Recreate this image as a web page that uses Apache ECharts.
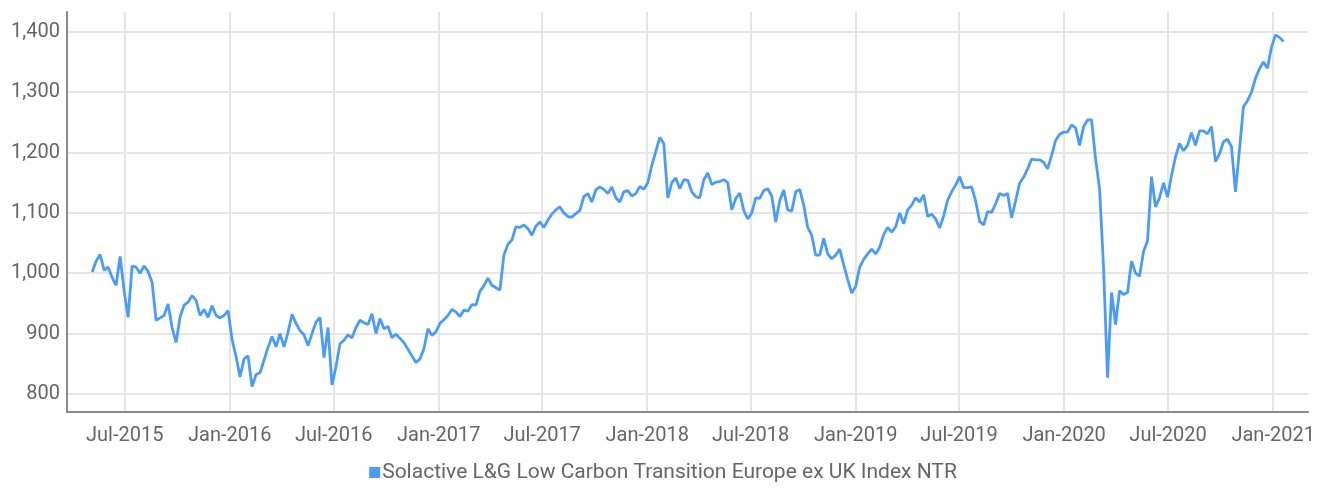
<!DOCTYPE html>
<html>
<head>
<meta charset="utf-8">
<script src="https://cdn.jsdelivr.net/npm/echarts@6.0.0/dist/echarts.min.js"></script>
<style>
  html, body { margin: 0; padding: 0; background: #fff; }
  #chart { width: 1326px; height: 494px; }
</style>
</head>
<body>
<div id="chart"></div>
<script>
// Index level, weekly closes (first week: 5 May 2015)
const seriesName = 'Solactive L&G Low Carbon Transition Europe ex UK Index NTR';
const firstWeek = [2015, 4, 5];

const close2015 = [1002, 1020, 1031, 1005, 1010, 993, 980, 1028, 971, 927,
    1012, 1010, 1000, 1012, 1003, 985, 922, 926, 930, 949,
    910, 885, 928, 947, 952, 963, 955, 930, 940, 927,
    946, 930, 926, 930, 938];
const close2016 = [890, 862, 828, 858, 863,
    812, 832, 835, 856, 877, 895, 878, 900, 878, 902,
    932, 917, 905, 898, 880, 900, 919, 927, 860, 910,
    815, 845, 883, 889, 898, 893, 910, 922, 918, 915,
    933, 900, 925, 908, 912, 893, 899, 892, 885, 874,
    863, 852, 858, 875, 908, 897, 903];
const close2017 = [917, 923, 930,
    940, 936, 928, 939, 937, 948, 947, 970, 979, 992,
    980, 976, 972, 1030, 1048, 1055, 1077, 1076, 1080, 1074,
    1063, 1078, 1085, 1076, 1088, 1098, 1105, 1110, 1100, 1094,
    1093, 1099, 1104, 1127, 1132, 1118, 1138, 1143, 1139, 1132,
    1143, 1125, 1118, 1135, 1137, 1128, 1132, 1144, 1139];
const close2018 = [1150,
    1179, 1202, 1225, 1215, 1125, 1150, 1158, 1140, 1155, 1154,
    1135, 1127, 1125, 1155, 1166, 1147, 1151, 1152, 1155, 1150,
    1105, 1124, 1133, 1104, 1090, 1100, 1125, 1124, 1137, 1140,
    1128, 1085, 1120, 1138, 1105, 1103, 1135, 1139, 1113, 1076,
    1063, 1030, 1030, 1058, 1032, 1024, 1030, 1040, 1014, 990,
    967];
const close2019 = [978, 1010, 1023, 1032, 1040, 1032, 1043, 1064, 1076,
    1068, 1077, 1100, 1082, 1105, 1113, 1125, 1118, 1130, 1094,
    1098, 1090, 1075, 1095, 1121, 1135, 1146, 1160, 1142, 1142,
    1143, 1120, 1086, 1080, 1102, 1101, 1115, 1132, 1129, 1132,
    1092, 1120, 1149, 1159, 1173, 1189, 1188, 1188, 1184, 1173,
    1195, 1220, 1230, 1234];
const close2020 = [1234, 1246, 1241, 1212, 1243, 1254,
    1254, 1190, 1140, 1010, 827, 968, 915, 971, 965, 968,
    1020, 1000, 995, 1036, 1054, 1160, 1110, 1125, 1150, 1126,
    1162, 1193, 1215, 1203, 1212, 1233, 1212, 1236, 1236, 1231,
    1243, 1185, 1198, 1218, 1222, 1210, 1135, 1205, 1276, 1286,
    1300, 1323, 1339, 1350, 1340, 1374];
const close2021 = [1395, 1391, 1384];

// visible x range and y range of the plot
const xMin = '2015-03-22';
const xMax = '2021-03-03';
const yMin = 770;
const yMax = 1433;

const monthNames = ['Jan', 'Feb', 'Mar', 'Apr', 'May', 'Jun', 'Jul', 'Aug', 'Sep', 'Oct', 'Nov', 'Dec'];

const closes = [].concat(close2015, close2016, close2017, close2018, close2019, close2020, close2021);
const start = new Date(firstWeek[0], firstWeek[1], firstWeek[2]).getTime();
const chartData = closes.map((v, i) => [start + i * 7 * 86400000, v]);

const myChart = echarts.init(document.getElementById('chart'), null, { renderer: 'canvas' });
const fontFamily = 'Roboto, "Noto Sans", sans-serif';

const option = {
    animation: false,
    backgroundColor: '#fff',
    grid: { left: 67, right: 18, top: 12, bottom: 82, containLabel: false },
    legend: {
        data: [seriesName],
        bottom: 6,
        left: 'center',
        icon: 'rect',
        itemWidth: 11,
        itemHeight: 11,
        itemGap: 4,
        textStyle: { color: '#666', fontSize: 21, fontFamily: fontFamily, padding: [0, 0, 0, -3] }
    },
    xAxis: {
        type: 'time',
        min: xMin,
        max: xMax,
        splitNumber: 12,
        minInterval: 180 * 86400000,
        maxInterval: 186 * 86400000,
        axisLine: { show: true, lineStyle: { color: '#8a8a8a', width: 2 } },
        axisTick: { show: false },
        axisLabel: {
            color: '#666',
            fontSize: 20,
            fontFamily: fontFamily,
            margin: 14,
            showMinLabel: false,
            showMaxLabel: false,
            formatter: function (value) {
                const d = new Date(value);
                return monthNames[d.getMonth()] + '-' + d.getFullYear();
            }
        },
        splitLine: { show: true, showMinLine: false, showMaxLine: false, lineStyle: { color: '#e6e6e6', width: 2 } }
    },
    yAxis: {
        type: 'value',
        min: yMin,
        max: yMax,
        axisLine: { show: true, lineStyle: { color: '#8a8a8a', width: 2 } },
        axisTick: { show: false },
        axisLabel: {
            color: '#666',
            fontSize: 20,
            fontFamily: fontFamily,
            margin: 7,
            showMinLabel: false,
            showMaxLabel: false,
            formatter: v => v.toLocaleString('en-US')
        },
        splitLine: { show: true, showMinLine: false, showMaxLine: false, lineStyle: { color: '#e6e6e6', width: 2 } }
    },
    series: [{
        name: seriesName,
        type: 'line',
        data: chartData,
        showSymbol: false,
        smooth: false,
        itemStyle: { color: '#4a9cf6' },
        lineStyle: { color: '#4a9cf6', width: 2.8 }
    }]
};

myChart.setOption(option);
</script>
</body>
</html>
